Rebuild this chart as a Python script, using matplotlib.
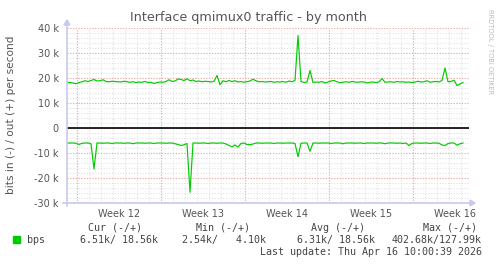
import numpy as np
import matplotlib
matplotlib.use("Agg")
import matplotlib.pyplot as plt
from matplotlib.patches import Rectangle

# ---- data (values in k bits/s), one sample every 6 hours ----
out_k = [18.3, 18.2, 18.0, 17.7, 18.2, 18.5, 18.9, 18.6, 19.0, 19.4,
         18.8, 18.9, 19.3, 18.6, 18.5, 18.7, 18.6, 18.5, 18.4, 18.7,
         18.5, 18.3, 18.5, 18.2, 18.4, 18.3, 18.6, 18.2, 18.3, 17.8,
         18.2, 18.4, 18.3, 18.6, 19.3, 18.6, 18.8, 19.6, 19.4, 19.0,
         19.7, 18.9, 19.2, 18.6, 18.8, 18.5, 18.7, 18.6, 18.4, 18.7,
         21.0, 17.3, 18.9, 18.5, 19.0, 18.6, 18.9, 18.4, 18.6, 18.3,
         18.5, 18.8, 19.5, 18.9, 18.5, 18.6, 18.4, 18.5, 18.6, 18.3,
         18.5, 18.4, 18.6, 18.3, 18.8, 18.5, 19.0, 37.0, 18.6, 18.2,
         18.4, 23.0, 18.2, 18.4, 18.3, 18.6, 18.0, 18.4, 18.8, 19.0,
         18.5, 18.1, 18.3, 18.5, 18.3, 18.6, 18.4, 18.3, 18.5, 18.4,
         18.0, 18.3, 18.4, 18.2, 18.4, 19.8, 18.3, 18.4, 18.5, 18.3,
         18.6, 18.4, 18.5, 18.3, 18.4, 18.2, 18.4, 18.7, 18.4, 18.5,
         18.9, 18.3, 18.5, 18.6, 18.4, 19.0, 24.0, 18.5, 18.6, 19.1,
         17.0, 17.6, 18.2]

in_k = [-6.0, -6.0, -6.0, -6.1, -6.6, -6.1, -6.0, -6.0, -6.3, -16.4,
        -6.0, -6.0, -6.1, -6.0, -6.0, -6.2, -6.0, -6.0, -6.0, -6.1,
        -6.0, -6.0, -6.3, -6.0, -6.0, -6.0, -6.1, -6.0, -6.0, -6.2,
        -6.0, -6.0, -6.0, -6.1, -6.0, -6.0, -6.3, -6.6, -7.0, -6.7,
        -6.2, -25.7, -6.0, -6.0, -6.1, -6.0, -6.0, -6.2, -6.0, -6.0,
        -6.1, -6.0, -6.0, -6.4, -7.0, -7.5, -6.8, -7.6, -6.2, -6.0,
        -6.6, -6.7, -6.4, -6.0, -6.0, -6.1, -6.0, -6.0, -6.0, -6.2,
        -6.0, -6.0, -6.1, -6.0, -6.0, -6.0, -6.2, -11.5, -6.1, -6.0,
        -6.0, -9.3, -6.0, -6.0, -6.1, -6.0, -6.0, -6.0, -6.2, -6.0,
        -6.0, -6.0, -6.3, -6.0, -6.0, -6.0, -6.1, -6.0, -6.0, -6.2,
        -6.0, -6.0, -6.0, -6.1, -6.0, -6.0, -6.3, -6.0, -6.0, -6.0,
        -6.1, -6.0, -6.2, -6.0, -7.0, -6.2, -6.0, -6.0, -6.1, -6.0,
        -6.0, -6.2, -6.0, -6.0, -6.1, -6.8, -7.0, -6.2, -6.0, -6.0,
        -6.9, -6.3, -6.0]

week_labels = ["Week 12", "Week 13", "Week 14", "Week 15", "Week 16"]
week_starts = [0.833, 7.833, 14.833, 21.833, 28.833]   # days from left edge
y_ticks = [40000, 30000, 20000, 10000, 0, -10000, -20000, -30000]
y_tick_labels = ["40 k", "30 k", "20 k", "10 k", "0", "-10 k", "-20 k", "-30 k"]

legend_name = "bps"
stat_heads = ["Cur (-/+)", "Min (-/+)", "Avg (-/+)", "Max (-/+)"]
stat_vals = ["6.51k/ 18.56k", "2.54k/   4.10k", "6.31k/ 18.56k", "402.68k/127.99k"]
last_update = "Last update: Thu Apr 16 10:00:39 2026"

# ---- figure ----
W, H = 497, 264
fig = plt.figure(figsize=(W / 100, H / 100), dpi=100)
fig.patch.set_facecolor("white")

def fx(px):
    return px / W

def fy(py):
    return 1 - py / H

L, R, T, B = 67, 469, 28, 203
ax = fig.add_axes([fx(L), fy(B), fx(R) - fx(L), fy(T) - fy(B)])
ax.set_facecolor("white")
ax.set_xlim(0, 33.5)
ax.set_ylim(-30000, 40000)

# grids
for d in np.arange(0.833 - 7, 34, 1.0):
    if d < 0 or d > 33.5:
        continue
    ax.axvline(d, color="#e2e2e2", lw=0.8, ls=(0, (1, 1.5)), zorder=0)
for yv in range(-30000, 40001, 2000):
    ax.axhline(yv, color="#e2e2e2", lw=0.8, ls=(0, (1, 1.5)), zorder=0)
for d in week_starts:
    ax.axvline(d, color="#f2a8a8", lw=0.8, ls=(0, (1, 1.5)), zorder=1)
for yv in y_ticks:
    ax.axhline(yv, color="#f2a8a8", lw=0.8, ls=(0, (1, 1.5)), zorder=1)
ax.axhline(0, color="black", lw=1.2, zorder=3)

t = np.arange(len(out_k)) * 0.25
ax.plot(t, np.array(out_k) * 1000, color="#00cc00", lw=0.85, zorder=4)
ax.plot(t, np.array(in_k) * 1000, color="#00cc00", lw=0.85, zorder=4)

for s in ax.spines.values():
    s.set_visible(False)
ax.set_yticks(y_ticks)
ax.set_yticklabels(y_tick_labels)
ax.set_xticks([w + 3.5 for w in week_starts])
ax.set_xticklabels(week_labels)
ax.tick_params(axis="both", length=0, labelsize=7, colors="#555555")
ax.tick_params(axis="y", pad=6)
ax.tick_params(axis="x", pad=4)

fig.text(fx(11), fy(115), "bits in (-) / out (+) per second", rotation=90,
         ha="center", va="center", fontsize=7.6, color="#555555")

# axis lines with arrows
axcol = "#c8c8f0"
fig.add_artist(plt.Line2D([fx(L), fx(L)], [fy(B + 3), fy(24)], color=axcol, lw=1.2))
fig.add_artist(plt.Line2D([fx(L - 4), fx(R + 1)], [fy(B), fy(B)], color=axcol, lw=1.2))
fig.add_artist(plt.Polygon([[fx(L - 3), fy(25)], [fx(L + 3), fy(25)], [fx(L), fy(20)]],
                           closed=True, color=axcol, transform=fig.transFigure))
fig.add_artist(plt.Polygon([[fx(R + 1), fy(B - 3)], [fx(R + 1), fy(B + 3)], [fx(R + 6), fy(B)]],
                           closed=True, color=axcol, transform=fig.transFigure))

# title and watermark
fig.text(fx(248), fy(18), "Interface qmimux0 traffic - by month", ha="center", va="center",
         fontsize=9.2, color="#555555")
fig.text(fx(490), fy(52), "RRDTOOL / TOBI OETIKER", rotation=270, ha="center", va="center",
         fontsize=4.8, color="#bbbbbb")

# legend
mono = "DejaVu Sans Mono"
fig.add_artist(Rectangle((fx(13), fy(243)), fx(7), 7 / H, color="#00cc00",
                         transform=fig.transFigure))
fig.text(fx(27), fy(240), legend_name, fontsize=7.2, family=mono, color="#444444", va="center")
head_x = [142, 250, 365, 477]
val_x = [158, 266, 375, 482]
for hx, h in zip(head_x, stat_heads):
    fig.text(fx(hx), fy(228), h, fontsize=7.2, family=mono, color="#444444", va="center", ha="right")
for vx, v in zip(val_x, stat_vals):
    fig.text(fx(vx), fy(240), v, fontsize=7.2, family=mono, color="#444444", va="center", ha="right")
fig.text(fx(482), fy(252), last_update, fontsize=7.2, family=mono, color="#444444", va="center", ha="right")

fig.savefig("out.png", dpi=100, facecolor="white")
